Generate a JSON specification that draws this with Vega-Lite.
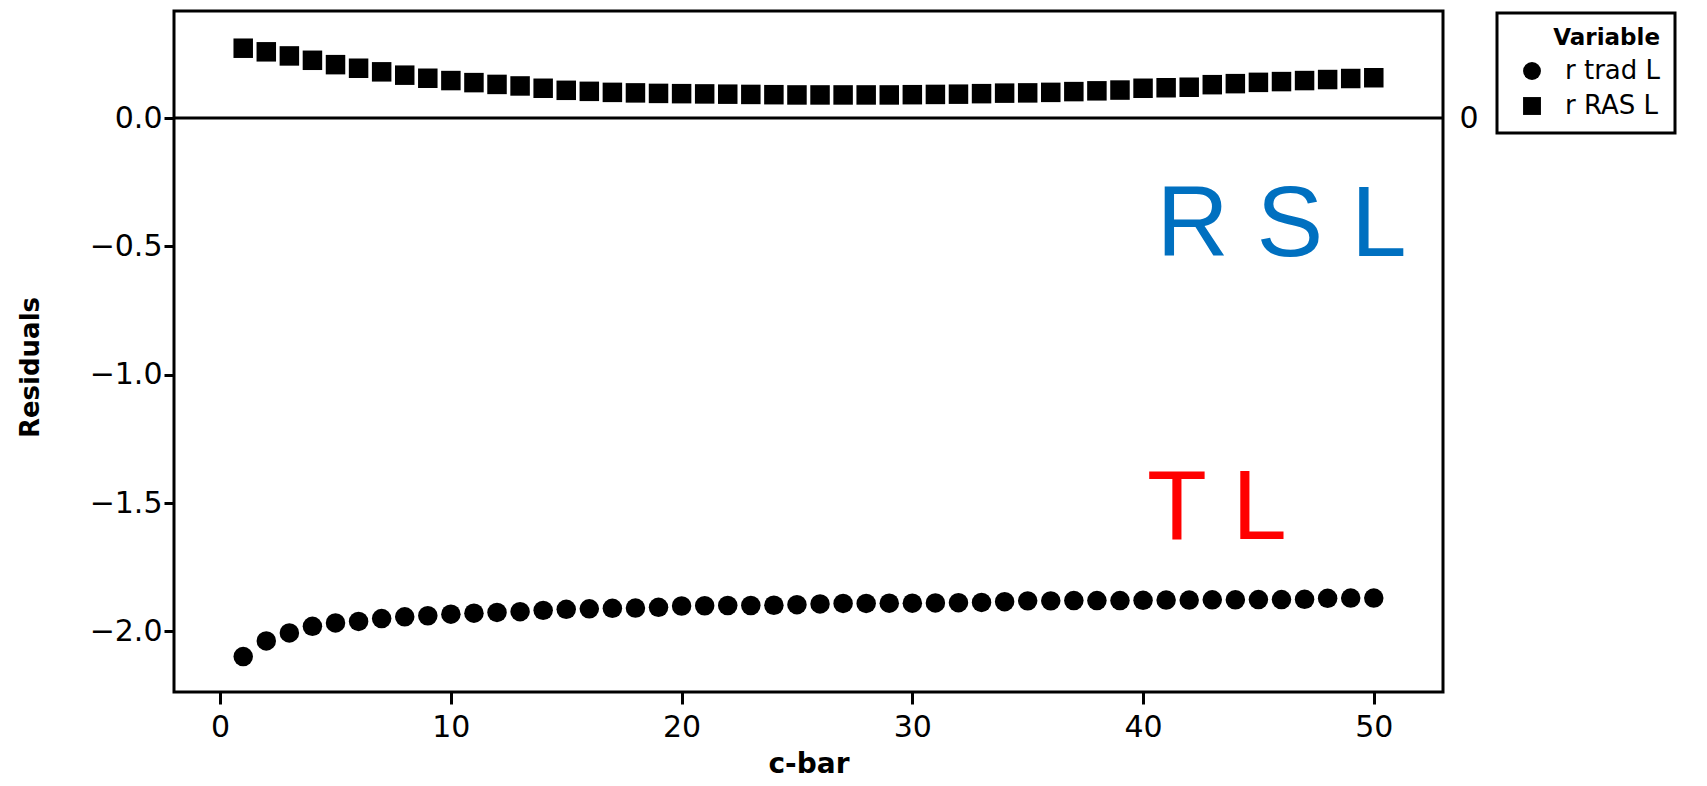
{
  "$schema": "https://vega.github.io/schema/vega-lite/v6.json",
  "autosize": "none",
  "width": 1269,
  "height": 681,
  "padding": {"left": 174, "top": 11, "right": 264, "bottom": 94},
  "background": "white",
  "config": {
    "view": {"stroke": "black", "strokeWidth": 3},
    "axis": {
      "domain": false, "grid": false, "tickColor": "black", "tickWidth": 3,
      "labelColor": "black", "labelFont": "DejaVu Sans", "labelFontSize": 30,
      "titleFont": "DejaVu Sans", "titleFontWeight": "bold", "titleColor": "black"
    },
    "legend": {
      "strokeColor": "black", "strokeWidth": 3, "fillColor": "white", "padding": 14,
      "titleFont": "DejaVu Sans", "titleFontWeight": "bold", "titleFontSize": 23, "titleColor": "black",
      "titleAnchor": "end", "titlePadding": 8,
      "labelFont": "DejaVu Sans", "labelFontSize": 26, "labelColor": "black", "labelOffset": 20,
      "symbolSize": 320, "symbolOffset": 8, "rowPadding": 9, "symbolStrokeWidth": 0
    }
  },
  "layer": [
    {
      "data": {"values": [{}]},
      "mark": {"type": "rule", "color": "black", "strokeWidth": 3},
      "encoding": {
        "y": {"datum": 0, "type": "quantitative",
          "axis": {"orient": "right", "values": [0], "format": "d", "ticks": false, "labelPadding": 16, "title": null}}
      }
    },
    {
      "data": {"values": [
        {"series": "r trad L", "c": 1, "r": -2.098},
        {"series": "r trad L", "c": 2, "r": -2.037},
        {"series": "r trad L", "c": 3, "r": -2.006},
        {"series": "r trad L", "c": 4, "r": -1.980},
        {"series": "r trad L", "c": 5, "r": -1.967},
        {"series": "r trad L", "c": 6, "r": -1.961},
        {"series": "r trad L", "c": 7, "r": -1.950},
        {"series": "r trad L", "c": 8, "r": -1.943},
        {"series": "r trad L", "c": 9, "r": -1.939},
        {"series": "r trad L", "c": 10, "r": -1.933},
        {"series": "r trad L", "c": 11, "r": -1.929},
        {"series": "r trad L", "c": 12, "r": -1.926},
        {"series": "r trad L", "c": 13, "r": -1.923},
        {"series": "r trad L", "c": 14, "r": -1.918},
        {"series": "r trad L", "c": 15, "r": -1.914},
        {"series": "r trad L", "c": 16, "r": -1.912},
        {"series": "r trad L", "c": 17, "r": -1.910},
        {"series": "r trad L", "c": 18, "r": -1.909},
        {"series": "r trad L", "c": 19, "r": -1.906},
        {"series": "r trad L", "c": 20, "r": -1.901},
        {"series": "r trad L", "c": 21, "r": -1.900},
        {"series": "r trad L", "c": 22, "r": -1.899},
        {"series": "r trad L", "c": 23, "r": -1.899},
        {"series": "r trad L", "c": 24, "r": -1.898},
        {"series": "r trad L", "c": 25, "r": -1.896},
        {"series": "r trad L", "c": 26, "r": -1.893},
        {"series": "r trad L", "c": 27, "r": -1.891},
        {"series": "r trad L", "c": 28, "r": -1.891},
        {"series": "r trad L", "c": 29, "r": -1.890},
        {"series": "r trad L", "c": 30, "r": -1.890},
        {"series": "r trad L", "c": 31, "r": -1.889},
        {"series": "r trad L", "c": 32, "r": -1.888},
        {"series": "r trad L", "c": 33, "r": -1.887},
        {"series": "r trad L", "c": 34, "r": -1.884},
        {"series": "r trad L", "c": 35, "r": -1.881},
        {"series": "r trad L", "c": 36, "r": -1.881},
        {"series": "r trad L", "c": 37, "r": -1.880},
        {"series": "r trad L", "c": 38, "r": -1.880},
        {"series": "r trad L", "c": 39, "r": -1.880},
        {"series": "r trad L", "c": 40, "r": -1.879},
        {"series": "r trad L", "c": 41, "r": -1.878},
        {"series": "r trad L", "c": 42, "r": -1.878},
        {"series": "r trad L", "c": 43, "r": -1.877},
        {"series": "r trad L", "c": 44, "r": -1.877},
        {"series": "r trad L", "c": 45, "r": -1.876},
        {"series": "r trad L", "c": 46, "r": -1.876},
        {"series": "r trad L", "c": 47, "r": -1.875},
        {"series": "r trad L", "c": 48, "r": -1.871},
        {"series": "r trad L", "c": 49, "r": -1.870},
        {"series": "r trad L", "c": 50, "r": -1.870},
        {"series": "r RAS L", "c": 1, "r": 0.272},
        {"series": "r RAS L", "c": 2, "r": 0.258},
        {"series": "r RAS L", "c": 3, "r": 0.242},
        {"series": "r RAS L", "c": 4, "r": 0.225},
        {"series": "r RAS L", "c": 5, "r": 0.208},
        {"series": "r RAS L", "c": 6, "r": 0.194},
        {"series": "r RAS L", "c": 7, "r": 0.180},
        {"series": "r RAS L", "c": 8, "r": 0.167},
        {"series": "r RAS L", "c": 9, "r": 0.155},
        {"series": "r RAS L", "c": 10, "r": 0.146},
        {"series": "r RAS L", "c": 11, "r": 0.138},
        {"series": "r RAS L", "c": 12, "r": 0.131},
        {"series": "r RAS L", "c": 13, "r": 0.125},
        {"series": "r RAS L", "c": 14, "r": 0.116},
        {"series": "r RAS L", "c": 15, "r": 0.108},
        {"series": "r RAS L", "c": 16, "r": 0.104},
        {"series": "r RAS L", "c": 17, "r": 0.100},
        {"series": "r RAS L", "c": 18, "r": 0.098},
        {"series": "r RAS L", "c": 19, "r": 0.096},
        {"series": "r RAS L", "c": 20, "r": 0.095},
        {"series": "r RAS L", "c": 21, "r": 0.094},
        {"series": "r RAS L", "c": 22, "r": 0.093},
        {"series": "r RAS L", "c": 23, "r": 0.092},
        {"series": "r RAS L", "c": 24, "r": 0.091},
        {"series": "r RAS L", "c": 25, "r": 0.090},
        {"series": "r RAS L", "c": 26, "r": 0.090},
        {"series": "r RAS L", "c": 27, "r": 0.090},
        {"series": "r RAS L", "c": 28, "r": 0.090},
        {"series": "r RAS L", "c": 29, "r": 0.090},
        {"series": "r RAS L", "c": 30, "r": 0.091},
        {"series": "r RAS L", "c": 31, "r": 0.092},
        {"series": "r RAS L", "c": 32, "r": 0.093},
        {"series": "r RAS L", "c": 33, "r": 0.095},
        {"series": "r RAS L", "c": 34, "r": 0.097},
        {"series": "r RAS L", "c": 35, "r": 0.098},
        {"series": "r RAS L", "c": 36, "r": 0.100},
        {"series": "r RAS L", "c": 37, "r": 0.103},
        {"series": "r RAS L", "c": 38, "r": 0.106},
        {"series": "r RAS L", "c": 39, "r": 0.109},
        {"series": "r RAS L", "c": 40, "r": 0.116},
        {"series": "r RAS L", "c": 41, "r": 0.118},
        {"series": "r RAS L", "c": 42, "r": 0.120},
        {"series": "r RAS L", "c": 43, "r": 0.130},
        {"series": "r RAS L", "c": 44, "r": 0.134},
        {"series": "r RAS L", "c": 45, "r": 0.139},
        {"series": "r RAS L", "c": 46, "r": 0.142},
        {"series": "r RAS L", "c": 47, "r": 0.146},
        {"series": "r RAS L", "c": 48, "r": 0.150},
        {"series": "r RAS L", "c": 49, "r": 0.154},
        {"series": "r RAS L", "c": 50, "r": 0.157}
      ]},
      "mark": {"type": "point", "filled": true, "opacity": 1, "size": 380},
      "encoding": {
        "x": {"field": "c", "type": "quantitative",
          "scale": {"domain": [-2, 53], "nice": false, "zero": false},
          "axis": {"values": [0, 10, 20, 30, 40, 50], "title": "c-bar", "tickSize": 12, "labelPadding": 8, "titlePadding": 8, "titleFontSize": 28}},
        "y": {"field": "r", "type": "quantitative",
          "scale": {"domain": [-2.236, 0.417], "nice": false, "zero": false},
          "axis": {"values": [-2, -1.5, -1, -0.5, 0], "format": ".1f", "title": "Residuals", "tickSize": 10, "labelPadding": 2, "titleFontSize": 26, "titlePadding": 46, "titleY": 356}},
        "color": {"field": "series", "type": "nominal",
          "scale": {"domain": ["r trad L", "r RAS L"], "range": ["black", "black"]},
          "legend": {"title": "Variable", "orient": "none", "legendX": 1323, "legendY": 2}},
        "shape": {"field": "series", "type": "nominal",
          "scale": {"domain": ["r trad L", "r RAS L"], "range": ["circle", "square"]},
          "legend": {"title": "Variable", "orient": "none", "legendX": 1323, "legendY": 2}}
      }
    },
    {
      "data": {"values": [{}]},
      "mark": {"type": "text", "font": "Liberation Sans", "fontSize": 100, "color": "#0070C0", "align": "center", "baseline": "alphabetic"},
      "encoding": {
        "x": {"datum": 46, "type": "quantitative", "axis": null},
        "y": {"datum": -0.537, "type": "quantitative", "axis": null},
        "text": {"value": "R S L"}
      }
    },
    {
      "data": {"values": [{}]},
      "mark": {"type": "text", "font": "Liberation Sans", "fontSize": 98, "color": "#FF0000", "align": "center", "baseline": "alphabetic"},
      "encoding": {
        "x": {"datum": 43.2, "type": "quantitative", "axis": null},
        "y": {"datum": -1.64, "type": "quantitative", "axis": null},
        "text": {"value": "T L"}
      }
    }
  ],
  "resolve": {"axis": {"x": "independent", "y": "independent"}}
}
